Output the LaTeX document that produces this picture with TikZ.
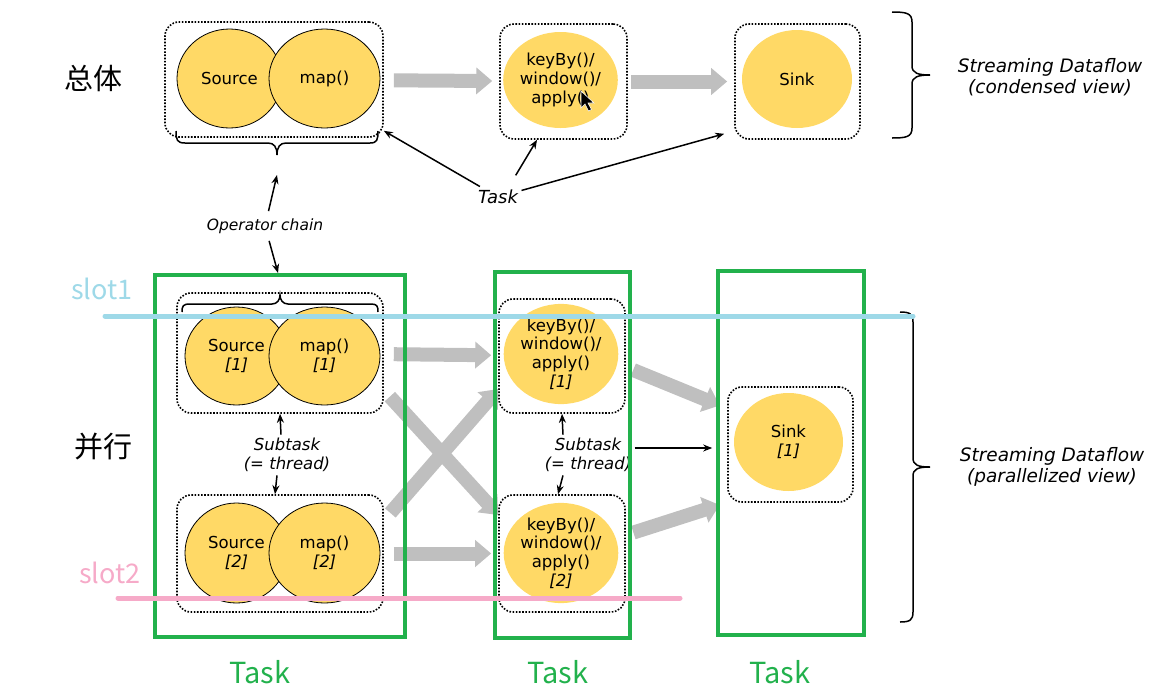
\documentclass[tikz,border=0pt]{standalone}
\usepackage{fontspec}
\setmainfont{DejaVu Sans}
\newfontfamily\cjkfont{Noto Sans CJK SC}
\usetikzlibrary{shapes.geometric, arrows.meta}
\definecolor{opyellow}{RGB}{255,217,102}
\definecolor{flowgray}{RGB}{191,191,191}
\definecolor{taskgreen}{RGB}{34,177,76}
\definecolor{slotblue}{RGB}{158,217,232}
\definecolor{slotpink}{RGB}{246,170,200}

\begin{document}
\begin{tikzpicture}[x=1pt, y=-1pt,
  op/.style={ellipse, draw=black, line width=0.8pt, fill=opyellow, inner sep=0pt, align=center,
    font=\fontsize{16.5}{19}\selectfont},
  opfree/.style={ellipse, fill=opyellow, inner sep=0pt, align=center, font=\fontsize{16.5}{18.7}\selectfont},
  chain/.style={draw, rounded corners=14pt, line width=1.6pt, dash pattern=on 1.6pt off 1.6pt, inner sep=0pt},
  flow/.style={draw=flowgray, line width=14pt, -{Triangle[length=16pt,width=26pt]}, shorten <=10pt, shorten >=7pt},
  ann/.style={-{Stealth[length=9pt,width=7pt]}, line width=1.5pt},
  brc/.style={line width=1.5pt},
  lbl/.style={align=center, font=\fontsize{16.5}{19}\selectfont\itshape},
  taskbox/.style={draw=taskgreen, line width=4.5pt, inner sep=0pt},
  tasklbl/.style={text=taskgreen, font=\cjkfont\fontsize{29}{32}\selectfont},
  cn/.style={font=\cjkfont\fontsize{29}{32}\selectfont},
  slotline/.style={line width=5pt, line cap=round},
]
\useasboundingbox (0,0) rectangle (1168,697);

% condensed view
\node[chain, minimum width=218pt, minimum height=115pt] (cbox) at (274,79.5) {};
\node[op, minimum width=105pt, minimum height=99pt] (src) at (229.5,78.5) {Source};
\node[op, minimum width=111pt, minimum height=99pt] (map) at (324.5,78.5) {map()};
\node[chain, minimum width=127pt, minimum height=115pt] (kboxt) at (563.5,81.5) {};
\node[opfree, minimum width=109pt, minimum height=96pt] (kbt) at (560.5,80) {keyBy()/\\window()/\\apply()};
\fill[black, draw=white, line width=0.6pt] (581,91) -- ++(0,17) -- ++(4,-4) -- ++(3.5,7) -- ++(3,-1.5) -- ++(-3.5,-6.5) -- ++(6,0) -- cycle;
\node[chain, minimum width=125pt, minimum height=115pt] (sboxt) at (797.5,81.5) {};
\node[opfree, minimum width=110pt, minimum height=98pt] (sinkt) at (797,79) {Sink};

\draw[flow] (cbox) -- (kboxt);
\draw[flow, shorten <=3pt] (kboxt) -- (sboxt);

% braces
\draw[brc] (176,131) .. controls (176,140) and (177,143) .. (185,143) -- (268,143)
  .. controls (274,143) and (277,147) .. (277,155) .. controls (277,147) and (280,143) .. (286,143)
  -- (370,143) .. controls (377,143) and (378,140) .. (378,131);
\draw[brc] (892,12) .. controls (906,12) and (912,13) .. (912,22) -- (912,66)
  .. controls (912,73) and (918,75) .. (930,75) .. controls (918,75) and (912,77) .. (912,84)
  -- (912,128) .. controls (912,137) and (906,138) .. (892,138);
\node[lbl, font=\fontsize{18.5}{21}\selectfont\itshape] (cond) at (1050,77) {Streaming Dataflow\\(condensed view)};

% labels of the top row
\node[lbl, font=\fontsize{18}{20}\selectfont\itshape] (task) at (498,197) {Task};
\draw[ann] (task) -- ([yshift=7pt]cbox.south east);
\draw[ann, shorten <=13pt] ([xshift=11pt]task.north) -- ([xshift=-26.5pt]kboxt.south);
\draw[ann] (task) -- ([xshift=-10pt,yshift=6pt]sboxt.south west);
\node[lbl, font=\fontsize{15.5}{18}\selectfont\itshape] (opchain) at (265,226) {Operator chain};
\coordinate (chainup) at (277,175);
\coordinate (chaindown) at (278,273);
\draw[ann, shorten <=4pt] (opchain) -- (chainup);
\draw[ann, shorten <=4pt] (opchain) -- (chaindown);

% parallelized view
\node[chain, minimum width=206pt, minimum height=120pt] (pbox1) at (280,353) {};
\node[op, minimum width=103pt, minimum height=98pt] (src1) at (236.5,356) {Source\\{\itshape [1]}};
\node[op, minimum width=111pt, minimum height=98pt] (map1) at (324.5,356) {map()\\{\itshape [1]}};
\node[chain, minimum width=206pt, minimum height=117pt] (pbox2) at (280,553.5) {};
\node[op, minimum width=103pt, minimum height=100pt] (src2) at (236.5,553) {Source\\{\itshape [2]}};
\node[op, minimum width=111pt, minimum height=100pt] (map2) at (324.5,553) {map()\\{\itshape [2]}};
\draw[brc] (182,312) .. controls (182,306) and (183,304) .. (190,304) -- (272,304)
  .. controls (277,304) and (280,300) .. (280,295) .. controls (280,300) and (283,304) .. (288,304)
  -- (371,304) .. controls (377,304) and (378,306) .. (378,312);

\node[chain, minimum width=126pt, minimum height=114pt] (kbox1) at (562,356) {};
\node[opfree, minimum width=110pt, minimum height=98pt] (kb1) at (561,354) {keyBy()/\\window()/\\apply()\\{\itshape [1]}};
\node[chain, minimum width=126pt, minimum height=117pt] (kbox2) at (562,553.5) {};
\node[opfree, minimum width=110pt, minimum height=100pt] (kb2) at (561,553) {keyBy()/\\window()/\\apply()\\{\itshape [2]}};
\node[chain, minimum width=125pt, minimum height=115pt] (sbox) at (790.5,444.5) {};
\node[opfree, minimum width=109pt, minimum height=98pt] (sink1) at (788.5,442) {Sink\\{\itshape [1]}};

\draw[flow] (pbox1) -- (kbox1);
\draw[flow] (pbox2) -- (kbox2);
\draw[flow, shorten <=9pt, shorten >=0pt] ([yshift=-37pt]pbox1.east) -- ([yshift=38.5pt]kbox2.west);
\draw[flow, shorten >=0pt] ([yshift=33pt]pbox2.east) -- ([yshift=-33pt]kbox1.west);
\draw[flow, shorten <=8pt, shorten >=8pt] ([yshift=-11pt]kbox1.east) -- ([yshift=36pt]sbox.west);
\draw[flow, shorten <=8pt, shorten >=8pt] ([yshift=18.5pt]kbox2.east) -- ([yshift=-58pt]sbox.west);

\node[lbl] (st1) at (287,455) {Subtask\\(= thread)};
\draw[ann] ([xshift=-6pt]st1.north) -- (pbox1.south);
\draw[ann] ([xshift=-10pt]st1.south) -- ([xshift=-5pt]pbox2.north);
\node[lbl] (st2) at (588,455) {Subtask\\(= thread)};
\draw[ann] ([xshift=-25pt]st2.north) -- (kbox1.south);
\draw[ann] ([xshift=-25pt]st2.south) -- ([xshift=-4pt]kbox2.north);
\draw[ann, shorten >=15pt] ([yshift=7pt]st2.east) -- ([yshift=7pt]st2.east -| sbox.west);

\draw[brc] (900,312) .. controls (910,312) and (913,314) .. (913,322) -- (913,458)
  .. controls (913,465) and (918,467) .. (930,467) .. controls (918,467) and (913,469) .. (913,476)
  -- (913,612) .. controls (913,620) and (910,622) .. (900,622);
\node[lbl, font=\fontsize{18.5}{21}\selectfont\itshape] (pview) at (1052,467) {Streaming Dataflow\\(parallelized view)};

% tasks and slots
\node[taskbox, minimum width=250pt, minimum height=362pt] (tbox1) at (280,456) {};
\node[taskbox, minimum width=135pt, minimum height=366pt] (tbox2) at (562.5,455) {};
\node[taskbox, minimum width=146pt, minimum height=364pt] (tbox3) at (791,453) {};
\node[tasklbl] (tl1) at (260,672) {Task};
\node[tasklbl] (tl2) at (558,672) {Task};
\node[tasklbl] (tl3) at (780,672) {Task};

\coordinate (s1a) at (105,316);
\coordinate (s1b) at (913,316);
\coordinate (s2a) at (118,598);
\coordinate (s2b) at (680,598);
\draw[slotline, slotblue] (s1a) -- (s1b);
\draw[slotline, slotpink] (s2a) -- (s2b);
\node[text=slotblue, font=\cjkfont\fontsize{27}{29}\selectfont] (slot1) at (102,289) {slot1};
\node[text=slotpink, font=\cjkfont\fontsize{27}{29}\selectfont] (slot2) at (110,573) {slot2};

\node[cn] (whole) at (93,78) {总体};
\node[cn] (para) at (103,447) {并行};
\end{tikzpicture}
\end{document}
